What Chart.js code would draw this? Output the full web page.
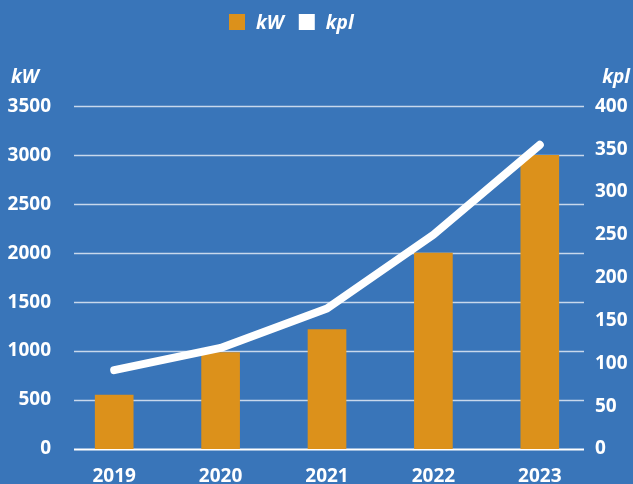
<!DOCTYPE html>
<html>
<head>
<meta charset="utf-8">
<script src="https://cdn.jsdelivr.net/npm/chart.js@4"></script>
<style>
  html, body { margin: 0; padding: 0; background: #3975b9; }
  canvas { display: block; }
</style>
</head>
<body>
<canvas id="chart" width="633" height="484"></canvas>
<script>
// chart data
const years = ['2019', '2020', '2021', '2022', '2023'];
const kwValues = [550, 985, 1220, 2000, 3000];
const kplValues = [92, 118, 164, 250, 355];

const orange = '#dc911b';
const tickFont = { family: 'Open Sans', size: 19, weight: 'bold' };

// horizontal grid lines, a bit shorter than the plot area
const gridPlugin = {
  id: 'shortGrid',
  beforeDatasetsDraw(chart) {
    const { ctx, chartArea, scales } = chart;
    const left = chartArea.left + 13;
    const right = chartArea.right - 9;
    ctx.save();
    scales.y.ticks.forEach(t => {
      const y = Math.round(scales.y.getPixelForValue(t.value)) + 0.5;
      ctx.beginPath();
      ctx.strokeStyle = t.value === 0 ? '#ffffff' : 'rgba(255,255,255,0.72)';
      ctx.lineWidth = t.value === 0 ? 2 : 1.5;
      ctx.moveTo(left, y);
      ctx.lineTo(right, y);
      ctx.stroke();
    });
    ctx.restore();
  }
};

// legend (sits left of centre in the original) and unit labels above the y axes
const labelPlugin = {
  id: 'labels',
  afterDraw(chart) {
    const { ctx } = chart;
    ctx.save();
    ctx.font = 'italic bold 19px "Open Sans"';
    ctx.textBaseline = 'alphabetic';

    let x = 229;
    chart.data.datasets.forEach(ds => {
      ctx.fillStyle = ds.backgroundColor;
      ctx.fillRect(x, 14, 16, 16);
      x += 16 + 11;
      ctx.fillStyle = '#ffffff';
      ctx.textAlign = 'left';
      ctx.fillText(ds.label, x, 29);
      x += ctx.measureText(ds.label).width + 15;
    });

    ctx.fillStyle = '#ffffff';
    ctx.textAlign = 'left';
    ctx.fillText('kW', 11, 83);
    ctx.textAlign = 'right';
    ctx.fillText('kpl', 630, 83);
    ctx.restore();
  }
};

const ctx = document.getElementById('chart').getContext('2d');

new Chart(ctx, {
  data: {
    labels: years,
    datasets: [{
      type: 'bar',
      label: 'kW',
      data: kwValues,
      backgroundColor: orange,
      borderWidth: 0,
      barThickness: 38,
      yAxisID: 'y',
      order: 1
    }, {
      type: 'line',
      label: 'kpl',
      data: kplValues,
      borderColor: '#ffffff',
      backgroundColor: '#ffffff',
      borderWidth: 8,
      borderCapStyle: 'round',
      borderJoinStyle: 'round',
      tension: 0,
      pointRadius: 0,
      clip: false,
      yAxisID: 'y1',
      order: 0
    }]
  },
  options: {
    responsive: false,
    animation: false,
    layout: { padding: { left: 7, right: 5, top: 0, bottom: 0 } },
    plugins: {
      tooltip: { enabled: false },
      legend: { display: false },
      // empty title used as top spacer for legend + unit labels
      title: {
        display: true,
        text: ' ',
        font: tickFont,
        padding: { top: 40, bottom: 43.5 }
      }
    },
    scales: {
      x: {
        grid: { display: false, drawTicks: false },
        border: { display: false },
        ticks: { color: '#ffffff', font: tickFont, padding: 16 },
        afterFit(scale) { scale.height = 35; }
      },
      y: {
        position: 'left',
        min: 0,
        max: 3500,
        grid: { display: false, drawTicks: false },
        border: { display: false },
        ticks: { color: '#ffffff', font: tickFont, stepSize: 500, padding: 10, callback: v => String(v) },
        afterFit(scale) { scale.width = 54; }
      },
      y1: {
        position: 'right',
        min: 0,
        max: 400,
        grid: { display: false, drawTicks: false },
        border: { display: false },
        ticks: { color: '#ffffff', font: tickFont, stepSize: 50, padding: 2 },
        afterFit(scale) { scale.width = 35; }
      }
    }
  },
  plugins: [gridPlugin, labelPlugin]
});
</script>
</body>
</html>
